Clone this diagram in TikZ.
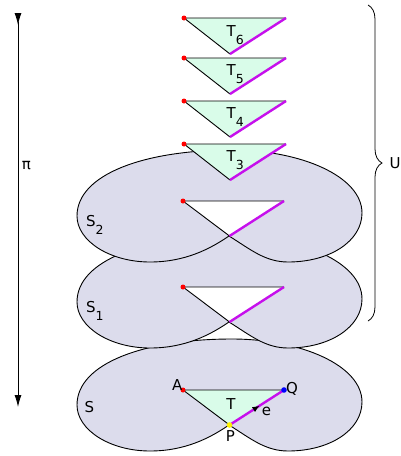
\documentclass[tikz,border=0pt]{standalone}
\usepackage{fontspec}
\setmainfont{DejaVu Sans}
\usetikzlibrary{arrows.meta,decorations.pathreplacing,decorations.markings}
\definecolor{sheetfill}{RGB}{220,220,236}
\definecolor{trifill}{RGB}{217,252,233}
\definecolor{edgepurple}{RGB}{198,16,236}
\newcommand\lowsub[2][0pt]{\kern#1\raisebox{-8pt}{\fontsize{12.5}{12.5}\selectfont #2}}
\tikzset{
  sheet/.style={draw=black, fill=sheetfill, line width=0.9pt},
  blackedge/.style={draw=black, line width=0.9pt, line join=round},
  purpleedge/.style={draw=edgepurple, line width=2.4pt},
  lbl/.style={font=\fontsize{15}{15}\selectfont, inner sep=0pt},
}
% sheet outline, local coordinates relative to the row of its triangle
\newcommand\drawsheetat[2]{%
  \begin{scope}[shift={(0,#1)}]
    \path[sheet] (229,35) .. controls (250,48) and (265,61) .. (288,61)
      .. controls (330,61) and (362,40) .. (362,12)
      .. controls (362,-25) and (300,-51) .. (232,-51)
      .. controls (145,-51) and (77,-27) .. (77,15)
      .. controls (77,40) and (110,61) .. (150,61)
      .. controls (185,61) and (210,48) .. (229,35) -- cycle;
    \coordinate (#2A) at (183,0);
    \coordinate (#2R) at (284,0);
    \coordinate (#2N) at (229.5,35);
  \end{scope}}
\newcommand\hovertri[2]{%
  \coordinate (#2A) at (184,#1);
  \coordinate (#2R) at (286,#1);
  \coordinate (#2N) at (230,#1+36);
  \fill[trifill] (#2A) -- (#2R) -- (#2N) -- cycle;
  \draw[blackedge] (#2N) -- (#2A) -- (#2R);
  \draw[purpleedge] (#2N) -- (#2R);
  \fill[red] (#2A) circle (2.5pt);}
\begin{document}
\begin{tikzpicture}[x=1pt,y=-1pt]
\useasboundingbox (0,0) rectangle (401,456);

% bottom sheet S
\drawsheetat{390}{s}
\fill[trifill] (sA) -- (sR) -- (sN) -- cycle;
\draw[blackedge] (sN) -- (sA) -- (sR);
\draw[purpleedge, postaction={decorate},
  decoration={markings, mark=at position 0.55 with {\arrow[black]{Latex[length=7pt,width=6pt]}}}]
  (sN) -- (sR);
\fill[red] (sA) circle (2.5pt);
\fill[blue] (sR) circle (2.8pt);
\fill[yellow] (sN) circle (2.8pt);
\node[lbl, anchor=base east] (lA) at (182.5,390) {A};
\node[lbl, anchor=base west] (lQ) at (286,393) {Q};
\node[lbl, anchor=base] (lP) at (230.5,441) {P};
\node[lbl, anchor=base] (lT) at (231,409) {T};
\node[lbl, anchor=base] (le) at (266.5,415.5) {e};
\node[lbl, anchor=base west] (lS) at (84.5,412) {S};

% sheet S1
\drawsheetat{287}{a}
\fill[white] (aA) -- (aR) -- (aN) -- cycle;
\draw[blackedge] (aN) -- (aA) -- (aR);
\draw[purpleedge] (aN) -- (aR);
\fill[red] (aA) circle (2.5pt);
\node[lbl, anchor=base west] (lS1) at (86,312.5) {S\lowsub{1}};

% sheet S2
\drawsheetat{201}{b}
\fill[white] (bA) -- (bR) -- (bN) -- cycle;
\draw[blackedge] (bN) -- (bA) -- (bR);
\draw[purpleedge] (bN) -- (bR);
\fill[red] (bA) circle (2.5pt);
\node[lbl, anchor=base west] (lS2) at (86,226) {S\lowsub{2}};

% hovering triangles
\hovertri{144}{t3}
\hovertri{101}{t4}
\hovertri{58}{t5}
\hovertri{18}{t6}
\node[lbl, anchor=base west] (lT3) at (226.5,161) {T\lowsub{3}};
\node[lbl, anchor=base west] (lT4) at (226.5,118) {T\lowsub{4}};
\node[lbl, anchor=base west] (lT5) at (226.5,75) {T\lowsub{5}};
\node[lbl, anchor=base west] (lT6) at (226.5,36) {T\lowsub{6}};

% projection arrow pi
\coordinate (pitop) at (18,13);
\coordinate (pibot) at (18,407);
\draw[line width=0.9pt, {Latex[reversed,length=12pt,width=7pt]}-{Latex[length=12pt,width=7pt]}] (pitop) -- (pibot);
\node[lbl, anchor=base] (lpi) at (26.5,169) {π};

% brace U
\coordinate (bracetop) at (368,5);
\coordinate (bracebot) at (368,321);
\draw[line width=0.8pt, decorate, decoration={brace, amplitude=14pt}] (bracetop) -- (bracebot);
\node[lbl] (lU) at (395,163) {U};
\end{tikzpicture}
\end{document}
